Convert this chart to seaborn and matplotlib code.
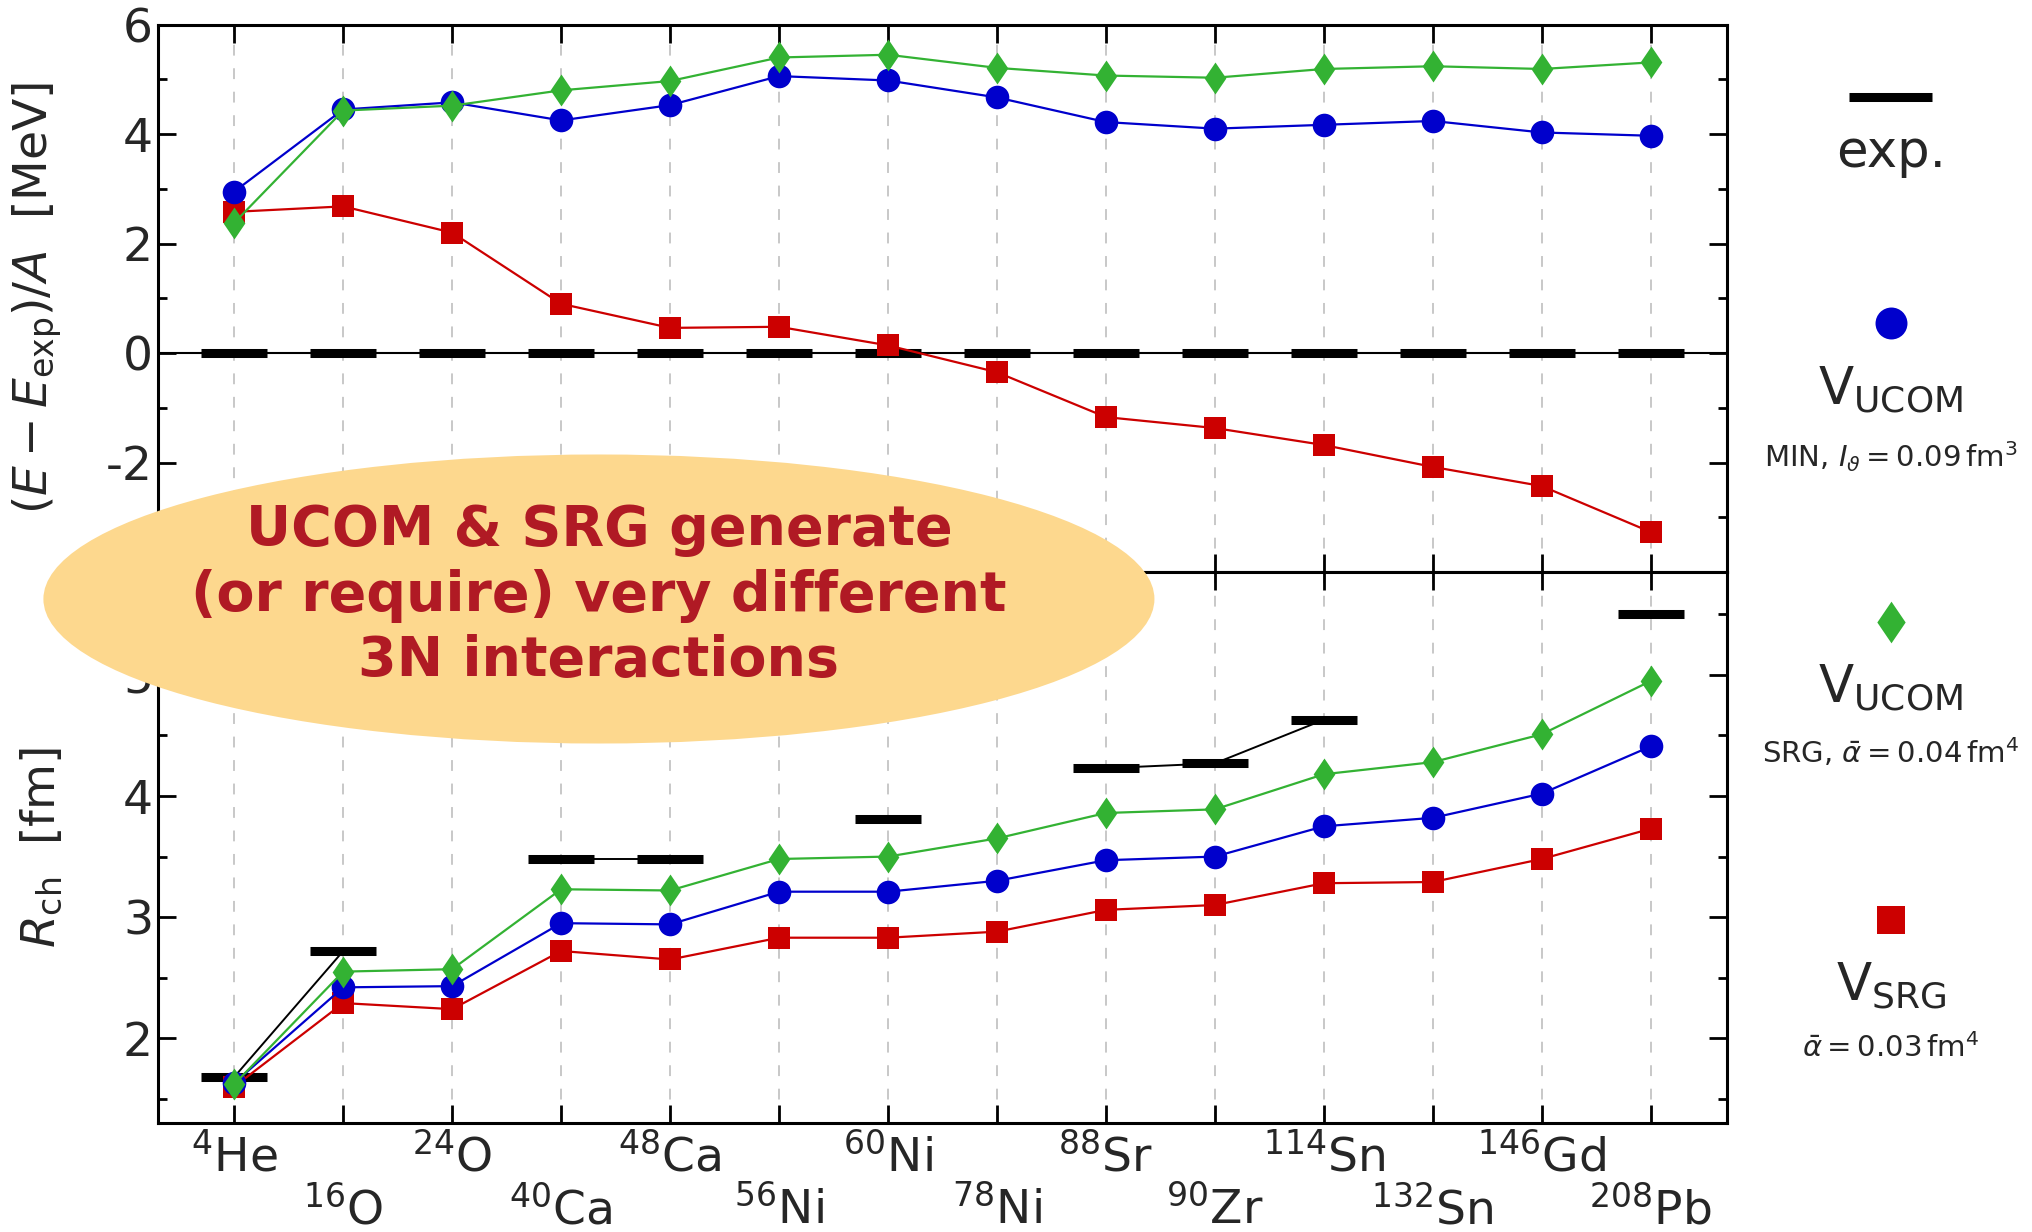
import numpy as np
import matplotlib
matplotlib.use("Agg")
import matplotlib.pyplot as plt
import seaborn as sns
from matplotlib.patches import Ellipse
from matplotlib.lines import Line2D
from matplotlib.path import Path
from matplotlib.ticker import MultipleLocator

# ---------------------------------------------------------------- data
nuclei = [r"$^{4}$He", r"$^{16}$O", r"$^{24}$O", r"$^{40}$Ca", r"$^{48}$Ca",
          r"$^{56}$Ni", r"$^{60}$Ni", r"$^{78}$Ni", r"$^{88}$Sr", r"$^{90}$Zr",
          r"$^{114}$Sn", r"$^{132}$Sn", r"$^{146}$Gd", r"$^{208}$Pb"]

# (E - E_exp)/A in MeV
energy_exp = [0.0] * 14
energy_ucom_min = [2.95, 4.45, 4.58, 4.25, 4.53, 5.06, 4.98, 4.67, 4.22, 4.10, 4.17, 4.24, 4.03, 3.97]
energy_ucom_srg = [2.38, 4.43, 4.52, 4.80, 4.97, 5.40, 5.45, 5.21, 5.07, 5.03, 5.19, 5.24, 5.19, 5.31]
energy_srg = [2.58, 2.68, 2.20, 0.90, 0.46, 0.48, 0.14, -0.35, -1.17, -1.37, -1.68, -2.08, -2.43, -3.27]

# charge radii in fm (nan: no experimental value)
radius_exp = [1.68, 2.72, np.nan, 3.48, 3.48, np.nan, 3.81, np.nan, 4.23, 4.27, 4.63, np.nan, np.nan, 5.50]
radius_ucom_min = [1.63, 2.42, 2.43, 2.95, 2.94, 3.21, 3.21, 3.30, 3.47, 3.50, 3.75, 3.82, 4.02, 4.41]
radius_ucom_srg = [1.62, 2.55, 2.57, 3.23, 3.22, 3.48, 3.50, 3.65, 3.86, 3.89, 4.18, 4.28, 4.51, 4.95]
radius_srg = [1.60, 2.29, 2.24, 2.72, 2.65, 2.83, 2.83, 2.88, 3.06, 3.10, 3.28, 3.29, 3.48, 3.73]

# ---------------------------------------------------------------- style
sns.set_style("ticks")
plt.rcParams["font.family"] = ["DejaVu Sans"]
plt.rcParams["mathtext.fontset"] = "dejavusans"
plt.rcParams["axes.unicode_minus"] = False

BLUE = "#0000cc"
GREEN = "#33b233"
RED = "#cc0000"

# tall, slim diamond
slim_diamond = Path([(0, 1), (0.68, 0), (0, -1), (-0.68, 0), (0, 1)],
                    [Path.MOVETO, Path.LINETO, Path.LINETO, Path.LINETO, Path.CLOSEPOLY])

fig = plt.figure(figsize=(20.33, 12.32), dpi=100)
left, right = 0.0777, 0.8495
top, mid, bottom = 0.9800, 0.5357, 0.0885
ax_e = fig.add_axes([left, mid, right - left, top - mid])
ax_r = fig.add_axes([left, bottom, right - left, mid - bottom])

pos = np.arange(len(nuclei))

series = [
    (RED, "s", 16),
    (BLUE, "o", 17),
    (GREEN, slim_diamond, 23),
]
EXP_KW = dict(color="black", marker="_", markersize=47, markeredgewidth=6.5,
              markeredgecolor="black")


def style_axis(ax):
    ax.set_xlim(-0.7, len(nuclei) - 1 + 0.7)
    for x in pos:
        ax.axvline(x, color="#c4c4c4", lw=1.3, dashes=(6, 7), zorder=0)
    for s in ax.spines.values():
        s.set_linewidth(2.2)
        s.set_color("black")
        s.set_visible(True)
    ax.tick_params(which="both", direction="in", top=True, right=True,
                   labelsize=34, width=2.0, color="black")
    ax.tick_params(which="major", length=13)
    ax.tick_params(which="minor", length=6.5)
    ax.tick_params(axis="x", which="minor", length=13)


# ---------------------------------------------------------------- energies
style_axis(ax_e)
ax_e.axhline(0, color="black", lw=1.5, zorder=1)
sns.lineplot(x=pos, y=energy_exp, ax=ax_e, lw=0, zorder=2, **EXP_KW)
for (c, m, ms), vals in zip(series, [energy_srg, energy_ucom_min, energy_ucom_srg]):
    sns.lineplot(x=pos, y=vals, ax=ax_e, color=c, lw=1.6, marker=m, markersize=ms,
                 markeredgewidth=0, zorder=3)
ax_e.set_ylim(-4, 6)
ax_e.yaxis.set_major_locator(MultipleLocator(2))
ax_e.yaxis.set_minor_locator(MultipleLocator(1))
ax_e.set_xticks(pos)
ax_e.tick_params(axis="x", labelbottom=False)
ax_e.set_xlabel("")
ax_e.set_ylabel(r"$(E - E_\mathrm{exp})/A$  [MeV]", fontsize=34, labelpad=30)

# ---------------------------------------------------------------- radii
style_axis(ax_r)
# experimental radii: connect only neighbouring measured nuclei
rexp = np.array(radius_exp)
segment = []
for i, v in enumerate(list(rexp) + [np.nan]):
    if np.isnan(v):
        if segment:
            sns.lineplot(x=pos[segment], y=rexp[segment], ax=ax_r, lw=1.4, zorder=2, **EXP_KW)
        segment = []
    else:
        segment.append(i)
for (c, m, ms), vals in zip(series, [radius_srg, radius_ucom_min, radius_ucom_srg]):
    sns.lineplot(x=pos, y=vals, ax=ax_r, color=c, lw=1.6, marker=m, markersize=ms,
                 markeredgewidth=0, zorder=3)
ax_r.set_ylim(1.3, 5.85)
ax_r.yaxis.set_major_locator(MultipleLocator(1))
ax_r.yaxis.set_minor_locator(MultipleLocator(0.5))
ax_r.set_xticks(pos[::2], [nuclei[i] for i in pos[::2]])
ax_r.set_xticks(pos[1::2], [nuclei[i] for i in pos[1::2]], minor=True)
ax_r.tick_params(axis="x", which="major", pad=8)
ax_r.tick_params(axis="x", which="minor", pad=46, labelsize=34)
ax_r.set_xlabel("")
ax_r.set_ylabel(r"$R_\mathrm{ch}$  [fm]", fontsize=34, labelpad=42)
for ax in (ax_e, ax_r):
    lo, hi = ax.get_ylim()
    ax.set_yticks(ax.get_yticks(), [f"{t:g}" for t in ax.get_yticks()])
    ax.set_ylim(lo, hi)

# ---------------------------------------------------------------- key on the right
kx = 0.930
fig.add_artist(Line2D([kx - 0.0205, kx + 0.0205], [0.921, 0.921], transform=fig.transFigure,
                      color="black", lw=6.5, solid_capstyle="butt"))
fig.text(kx, 0.876, "exp.", ha="center", va="center", fontsize=37)

key = [
    (BLUE, "o", 23, 0.738, r"$\mathrm{V}_\mathrm{UCOM}$", 0.684,
     r"MIN, $I_\vartheta = 0.09\,\mathrm{fm}^3$", 0.629),
    (GREEN, slim_diamond, 30, 0.495, r"$\mathrm{V}_\mathrm{UCOM}$", 0.442,
     r"SRG, $\bar{\alpha} = 0.04\,\mathrm{fm}^4$", 0.389),
    (RED, "s", 20.5, 0.253, r"$\mathrm{V}_\mathrm{SRG}$", 0.200,
     r"$\bar{\alpha} = 0.03\,\mathrm{fm}^4$", 0.149),
]
for c, m, ms, my, name, ny, sub, sy in key:
    fig.add_artist(Line2D([kx], [my], transform=fig.transFigure, color=c, marker=m,
                          markersize=ms, markeredgewidth=0, lw=0))
    fig.text(kx, ny, name, ha="center", va="center", fontsize=37)
    fig.text(kx, sy, sub, ha="center", va="center", fontsize=21)

# ---------------------------------------------------------------- highlighted statement
fig.add_artist(Ellipse((0.2946, 0.5138), 0.5465, 0.2346, transform=fig.transFigure,
                       facecolor="#fdd88e", edgecolor="none", zorder=10))
fig.text(0.2946, 0.5165, "UCOM & SRG generate\n(or require) very different\n3N interactions",
         ha="center", va="center", fontsize=40, fontweight="bold", color="#b01a24",
         linespacing=1.27, zorder=11)

fig.savefig("out.png", dpi=100)
